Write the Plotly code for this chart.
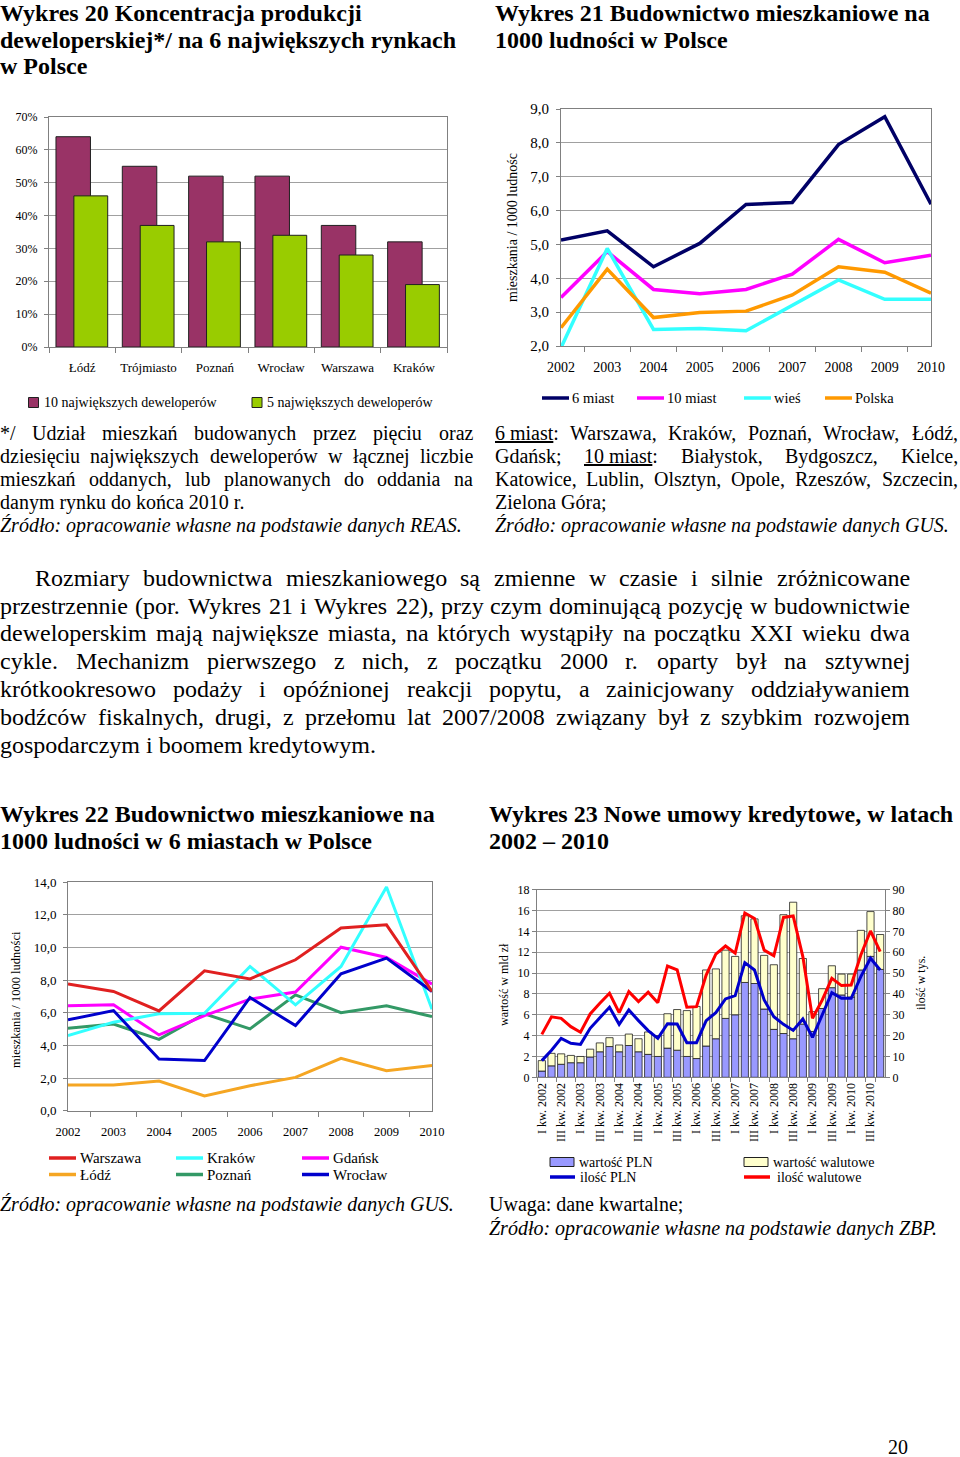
import re
import unicodedata
import plotly.graph_objects as go

# ---------------- DATA ----------------
# Wykres 20
cities20 = ['Łódź', 'Trójmiasto', 'Poznań', 'Wrocław', 'Warszawa', 'Kraków']
top10_dev = [0.64, 0.55, 0.52, 0.52, 0.37, 0.32]
top5_dev = [0.46, 0.37, 0.32, 0.34, 0.28, 0.19]

# Wykres 21
years = ['2002', '2003', '2004', '2005', '2006', '2007', '2008', '2009', '2010']
miast6 = [5.13, 5.40, 4.34, 5.03, 6.18, 6.24, 7.95, 8.77, 6.19]
miast10 = [3.43, 4.79, 3.67, 3.54, 3.67, 4.12, 5.15, 4.46, 4.68]
wies = [1.95, 4.88, 2.49, 2.52, 2.45, 3.21, 3.95, 3.38, 3.38]
polska = [2.54, 4.27, 2.84, 2.99, 3.03, 3.51, 4.34, 4.18, 3.56]

# Wykres 22
warszawa = [7.75, 7.30, 6.11, 8.56, 8.07, 9.24, 11.18, 11.38, 7.30]
krakow = [4.60, 5.42, 5.93, 5.97, 8.83, 6.48, 8.83, 13.69, 6.21]
gdansk = [6.42, 6.48, 4.64, 5.82, 6.83, 7.26, 10.01, 9.38, 7.75]
lodz = [1.57, 1.57, 1.82, 0.90, 1.53, 2.04, 3.21, 2.45, 2.76]
poznan = [5.05, 5.31, 4.37, 5.93, 5.01, 7.09, 6.00, 6.42, 5.76]
wroclaw = [5.56, 6.13, 3.17, 3.07, 6.93, 5.21, 8.38, 9.34, 7.30]

# Wykres 23
quarters = [f'{q} kw. {y}' for y in range(2002, 2011) for q in ['I', 'II', 'III', 'IV']]
quarter_ticks = [f'{q} kw. {y}' for y in range(2002, 2011) for q in ['I', 'III']]
wartosc_pln = [0.6, 1.1, 1.25, 1.4, 1.4, 1.95, 2.45, 2.95, 2.45, 3.05, 2.45, 2.2,
               2.0, 2.8, 2.6, 2.0, 1.8, 3.0, 3.7, 5.65, 6.0, 9.1, 9.0, 6.55,
               4.6, 4.2, 3.7, 5.1, 4.4, 6.6, 8.6, 7.9, 7.7, 10.3, 11.6, 10.35]
wartosc_wal = [1.0, 1.2, 1.0, 0.7, 0.6, 0.75, 0.85, 0.85, 0.65, 1.1, 1.25, 2.15,
               2.0, 3.3, 3.9, 4.4, 5.0, 7.3, 6.7, 6.55, 5.6, 6.4, 6.2, 5.15,
               6.2, 11.4, 13.1, 6.3, 1.9, 1.9, 2.1, 2.0, 2.2, 3.8, 4.3, 3.35]
ilosc_pln = [8.0, 13.0, 18.7, 16.3, 15.8, 23.5, 28.6, 33.6, 25.4, 32.3, 27.2, 22.4,
             18.7, 25.7, 25.6, 16.6, 16.6, 27.2, 31.0, 37.6, 39.2, 55.0, 51.5, 37.1,
             29.1, 25.4, 22.5, 28.0, 19.2, 30.2, 40.6, 37.9, 37.9, 48.3, 57.1, 51.5]
ilosc_wal = [20.6, 29.0, 28.3, 24.3, 21.6, 30.4, 35.5, 40.3, 31.0, 41.1, 36.3, 40.8,
             35.8, 53.4, 51.5, 33.6, 33.9, 49.0, 59.1, 63.0, 59.5, 78.8, 76.2, 61.0,
             58.3, 76.7, 77.4, 57.9, 28.3, 37.0, 47.5, 44.0, 44.3, 58.7, 70.2, 60.3]

# ---------------- HELPERS ----------------
W, H = 960, 1457
FONT = 'Liberation Serif, Times New Roman, serif'


def px(x):
    return x / W


def py(y):
    return 1 - y / H


# Times / Liberation Serif regular advance widths (1/1000 em)
TW = {' ': 250, '\u00a0': 250, '!': 333, '(': 333, ')': 333, '*': 500, ',': 250, '-': 333,
      '.': 250, '/': 278, ':': 278, ';': 278, '\u2013': 500,
      'A': 722, 'B': 667, 'C': 667, 'D': 722, 'E': 611, 'F': 556, 'G': 722, 'H': 722,
      'I': 333, 'J': 389, 'K': 722, 'L': 611, 'M': 889, 'N': 722, 'O': 722, 'P': 556,
      'Q': 722, 'R': 667, 'S': 556, 'T': 611, 'U': 722, 'V': 722, 'W': 944, 'X': 722,
      'Y': 722, 'Z': 611, 'a': 444, 'b': 500, 'c': 444, 'd': 500, 'e': 444, 'f': 333,
      'g': 500, 'h': 500, 'i': 278, 'j': 278, 'k': 500, 'l': 278, 'm': 778, 'n': 500,
      'o': 500, 'p': 500, 'q': 500, 'r': 333, 's': 389, 't': 278, 'u': 500, 'v': 500,
      'w': 722, 'x': 500, 'y': 500, 'z': 444, 'ł': 278, 'Ł': 611}


def tw(s):
    s = re.sub('<[^>]+>', '', s)
    total = 0
    for ch in s:
        if ch in TW:
            total += TW[ch]
        elif ch.isdigit():
            total += 500
        else:
            base = unicodedata.normalize('NFD', ch)[0]
            total += TW.get(base, 500)
    return total


annotations = []
shapes = []


def text(x, y, s, size, xanchor='left', angle=0, color='black'):
    annotations.append(dict(x=px(x), y=py(y), xref='paper', yref='paper', text=s,
                            showarrow=False, xanchor=xanchor, yanchor='middle',
                            textangle=angle, borderpad=0, borderwidth=0,
                            font=dict(family=FONT, size=size, color=color)))


def justify(line, x0, x1, y, size):
    words = line.split(' ')
    widths = [tw(w) * size / 1000 for w in words]
    gap = (x1 - x0 - sum(widths)) / (len(words) - 1)
    x = x0
    for w, wd in zip(words, widths):
        text(x, y, w, size)
        x += wd + gap


def leg_rect(x0, x1, yc, h, color, label, size):
    shapes.append(dict(type='rect', xref='paper', yref='paper', x0=px(x0), x1=px(x1),
                       y0=py(yc + h / 2), y1=py(yc - h / 2), fillcolor=color,
                       line=dict(color='#202020', width=1)))
    text(x1 + 5, yc, label, size)


def leg_line(x0, x1, yc, color, width, label, size, gap=5):
    shapes.append(dict(type='line', xref='paper', yref='paper', x0=px(x0), x1=px(x1),
                       y0=py(yc), y1=py(yc), line=dict(color=color, width=width)))
    text(x1 + gap, yc, label, size)


# ---------------- COLOURS ----------------
C_MAROON, C_GREEN = '#993366', '#99CC00'
C_6M, C_10M, C_WIES, C_PL = '#000066', '#FF00FF', '#33FFFF', '#FF9900'
C_WAW, C_KRK, C_GDA, C_LDZ, C_POZ, C_WRO = '#E02020', '#33FFFF', '#FF00FF', '#F5A623', '#339966', '#0000CC'
C_PLN_BAR, C_WAL_BAR, C_PLN_LINE, C_WAL_LINE = '#9999FF', '#FFFFCC', '#0000CC', '#FF0000'

fig = go.Figure()

# Wykres 20
fig.add_trace(go.Bar(x=cities20, y=top10_dev, xaxis='x', yaxis='y', width=0.52, offset=-0.395,
                     marker=dict(color=C_MAROON, line=dict(color='#202020', width=1)),
                     name='10 największych deweloperów', showlegend=False))
fig.add_trace(go.Bar(x=cities20, y=top5_dev, xaxis='x', yaxis='y', width=0.51, offset=-0.125,
                     marker=dict(color=C_GREEN, line=dict(color='#202020', width=1)),
                     name='5 największych deweloperów', showlegend=False))

# Wykres 21
for vals, col, nm in [(miast6, C_6M, '6 miast'), (miast10, C_10M, '10 miast'),
                      (wies, C_WIES, 'wieś'), (polska, C_PL, 'Polska')]:
    fig.add_trace(go.Scatter(x=years, y=vals, xaxis='x2', yaxis='y2', mode='lines',
                             line=dict(color=col, width=3.5), name=nm, showlegend=False))

# Wykres 22
for vals, col, nm in [(lodz, C_LDZ, 'Łódź'), (poznan, C_POZ, 'Poznań'), (gdansk, C_GDA, 'Gdańsk'),
                      (krakow, C_KRK, 'Kraków'), (wroclaw, C_WRO, 'Wrocław'),
                      (warszawa, C_WAW, 'Warszawa')]:
    fig.add_trace(go.Scatter(x=years, y=vals, xaxis='x3', yaxis='y3', mode='lines',
                             line=dict(color=col, width=3), name=nm, showlegend=False))

# Wykres 23
fig.add_trace(go.Bar(x=quarters, y=wartosc_pln, xaxis='x4', yaxis='y4', width=0.74,
                     marker=dict(color=C_PLN_BAR, line=dict(color='#202020', width=0.8)),
                     name='wartość PLN', showlegend=False))
fig.add_trace(go.Bar(x=quarters, y=wartosc_wal, base=wartosc_pln, xaxis='x4', yaxis='y4', width=0.74,
                     marker=dict(color=C_WAL_BAR, line=dict(color='#202020', width=0.8)),
                     name='wartość walutowe', showlegend=False))
fig.add_trace(go.Scatter(x=quarters, y=ilosc_pln, xaxis='x4', yaxis='y5', mode='lines',
                         line=dict(color=C_PLN_LINE, width=3), name='ilość PLN', showlegend=False))
fig.add_trace(go.Scatter(x=quarters, y=ilosc_wal, xaxis='x4', yaxis='y5', mode='lines',
                         line=dict(color=C_WAL_LINE, width=3), name='ilość walutowe', showlegend=False))

# ---------------- AXES ----------------
GRID = '#A0A0A0'
LINE = '#808080'


def xcat(domain, anchor, size, **kw):
    d = dict(domain=domain, anchor=anchor, type='category', showgrid=False, zeroline=False,
             showline=True, linecolor=LINE, linewidth=1, mirror=True, ticks='outside',
             ticklen=5, tickcolor=LINE, tickson='boundaries', automargin=False, tickangle=0,
             tickfont=dict(family=FONT, size=size, color='black'))
    d.update(kw)
    return d


def yval(domain, anchor, rng, dtick, fmt, size, **kw):
    d = dict(domain=domain, anchor=anchor, range=rng, dtick=dtick, tickformat=fmt,
             showgrid=True, gridcolor=GRID, gridwidth=1, zeroline=False, showline=True,
             linecolor=LINE, linewidth=1, mirror=True, ticks='outside', ticklen=4,
             automargin=False,
             tickcolor=LINE, tickfont=dict(family=FONT, size=size, color='black'))
    d.update(kw)
    return d


layout = dict(
    width=W, height=H, autosize=False, margin=dict(l=0, r=0, t=0, b=0, pad=0),
    paper_bgcolor='white', plot_bgcolor='white', separators=', ', barmode='overlay',
    showlegend=False,
    xaxis=xcat([px(49), px(447)], 'y', 13, ticklabelstandoff=8),
    yaxis=yval([py(347), py(117)], 'x', [0, 0.7], 0.1, '.0%', 12, ticklabelstandoff=4),
    xaxis2=xcat([px(561), px(931)], 'y2', 14, ticklabelstandoff=8),
    yaxis2=yval([py(346), py(109)], 'x2', [2, 9], 1, '.1f', 15, ticklabelstandoff=4),
    xaxis3=xcat([px(68), px(432)], 'y3', 12.5, ticklabelstandoff=9),
    yaxis3=yval([py(1110.7), py(882)], 'x3', [0, 14], 2, '.1f', 13, ticklabelstandoff=4),
    xaxis4=xcat([px(537), px(885)], 'y4', 12, tickvals=quarter_ticks, ticktext=quarter_ticks,
                tickangle=-90, categoryorder='array', categoryarray=quarters, ticklen=4),
    yaxis4=yval([py(1077.3), py(889.7)], 'x4', [0, 18], 2, 'd', 12),
    yaxis5=dict(overlaying='y4', side='right', anchor='x4', range=[0, 90], dtick=10,
                showgrid=False, zeroline=False, showline=True, linecolor=LINE, ticks='outside',
                ticklen=4, tickcolor=LINE, automargin=False,
                tickfont=dict(family=FONT, size=12, color='black')),
)

# ---------------- TEXT ----------------
B = 24
text(0, 13, '<b>Wykres 20 Koncentracja produkcji</b>', B)
text(0, 40, '<b>deweloperskiej*/ na 6 największych rynkach</b>', B)
text(0, 66, '<b>w Polsce</b>', B)
text(495, 13, '<b>Wykres 21 Budownictwo mieszkaniowe na</b>', B)
text(495, 40, '<b>1000 ludności w Polsce</b>', B)
text(0, 814, '<b>Wykres 22 Budownictwo mieszkaniowe na</b>', B)
text(0, 841, '<b>1000 ludności w 6 miastach w Polsce</b>', B)
text(489, 814, '<b>Wykres 23 Nowe umowy kredytowe, w latach</b>', B)
text(489, 841, '<b>2002 \u2013 2010</b>', B)

# notes
NS = 20
note_left = ['*/ Udział mieszkań budowanych przez pięciu oraz',
             'dziesięciu największych deweloperów w łącznej liczbie',
             'mieszkań oddanych, lub planowanych do oddania na']
for i, ln in enumerate(note_left):
    justify(ln, 0, 473, 433 + 23 * i, NS)
text(0, 502, 'danym rynku do końca 2010 r.', NS)
text(0, 525, '<i>Źródło: opracowanie własne na podstawie danych REAS.</i>', NS)

note_right = ['<u>6\u00a0miast</u>: Warszawa, Kraków, Poznań, Wrocław, Łódź,',
              'Gdańsk; <u>10\u00a0miast</u>: Białystok, Bydgoszcz, Kielce,',
              'Katowice, Lublin, Olsztyn, Opole, Rzeszów, Szczecin,']
for i, ln in enumerate(note_right):
    justify(ln, 495, 958, 433 + 23 * i, NS)
text(495, 502, 'Zielona Góra;', NS)
text(495, 525, '<i>Źródło: opracowanie własne na podstawie danych GUS.</i>', NS)

# paragraph
PS = 24
para = ['Rozmiary budownictwa mieszkaniowego są zmienne w czasie i silnie zróżnicowane',
        'przestrzennie (por. Wykres 21 i Wykres 22), przy czym dominującą pozycję w budownictwie',
        'deweloperskim mają największe miasta, na których wystąpiły na początku XXI wieku dwa',
        'cykle. Mechanizm pierwszego z nich, z początku 2000 r. oparty był na sztywnej',
        'krótkookresowo podaży i opóźnionej reakcji popytu, a zainicjowany oddziaływaniem',
        'bodźców fiskalnych, drugi, z przełomu lat 2007/2008 związany był z szybkim rozwojem']
para_y = [578, 606, 633, 661, 689, 717]
for i, ln in enumerate(para):
    justify(ln, 35 if i == 0 else 0, 910, para_y[i], PS)
text(0, 745, 'gospodarczym i boomem kredytowym.', PS)

# sources under charts 22/23
text(0, 1204, '<i>Źródło: opracowanie własne na podstawie danych GUS.</i>', NS)
text(489, 1204, 'Uwaga: dane kwartalne;', NS)
text(489, 1228, '<i>Źródło: opracowanie własne na podstawie danych ZBP.</i>', NS)

# page number
text(898, 1447, '20', 20, xanchor='center')

# axis titles
text(512, 228, 'mieszkania / 1000 ludnośc', 14, xanchor='center', angle=-90)
text(16, 1000, 'mieszkania / 1000 ludności', 12.5, xanchor='center', angle=-90)
text(504, 985, 'wartość w mld zł', 12, xanchor='center', angle=-90)
text(921, 983, 'ilość w tys.', 12, xanchor='center', angle=-90)

# legends
leg_rect(28.5, 38.5, 402.5, 10, C_MAROON, '10 największych deweloperów', 14)
leg_rect(252, 262, 402.5, 10, C_GREEN, '5 największych deweloperów', 14)

for x0, col, nm in [(542, C_6M, '6 miast'), (637, C_10M, '10 miast'),
                    (744, C_WIES, 'wieś'), (825, C_PL, 'Polska')]:
    leg_line(x0, x0 + 27, 398, col, 3.5, nm, 14.5, gap=3)

for (x0, yc), col, nm in [((49, 1158), C_WAW, 'Warszawa'), ((176, 1158), C_KRK, 'Kraków'),
                          ((302, 1158), C_GDA, 'Gdańsk'), ((49, 1174.5), C_LDZ, 'Łódź'),
                          ((176, 1174.5), C_POZ, 'Poznań'), ((302, 1174.5), C_WRO, 'Wrocław')]:
    leg_line(x0, x0 + 27, yc, col, 3.5, nm, 15, gap=4)

leg_rect(550, 574, 1162, 9, C_PLN_BAR, 'wartość PLN', 14)
leg_rect(744, 768, 1162, 9, C_WAL_BAR, 'wartość walutowe', 14)
leg_line(550, 575, 1177, C_PLN_LINE, 3.5, 'ilość PLN', 14)
leg_line(744, 770, 1177, C_WAL_LINE, 3.5, 'ilość walutowe', 14, gap=7)

layout['annotations'] = annotations
layout['shapes'] = shapes
fig.update_layout(**layout)

fig.write_html('out.html', config={'displayModeBar': False},
               post_script="document.body.style.margin='0';")
